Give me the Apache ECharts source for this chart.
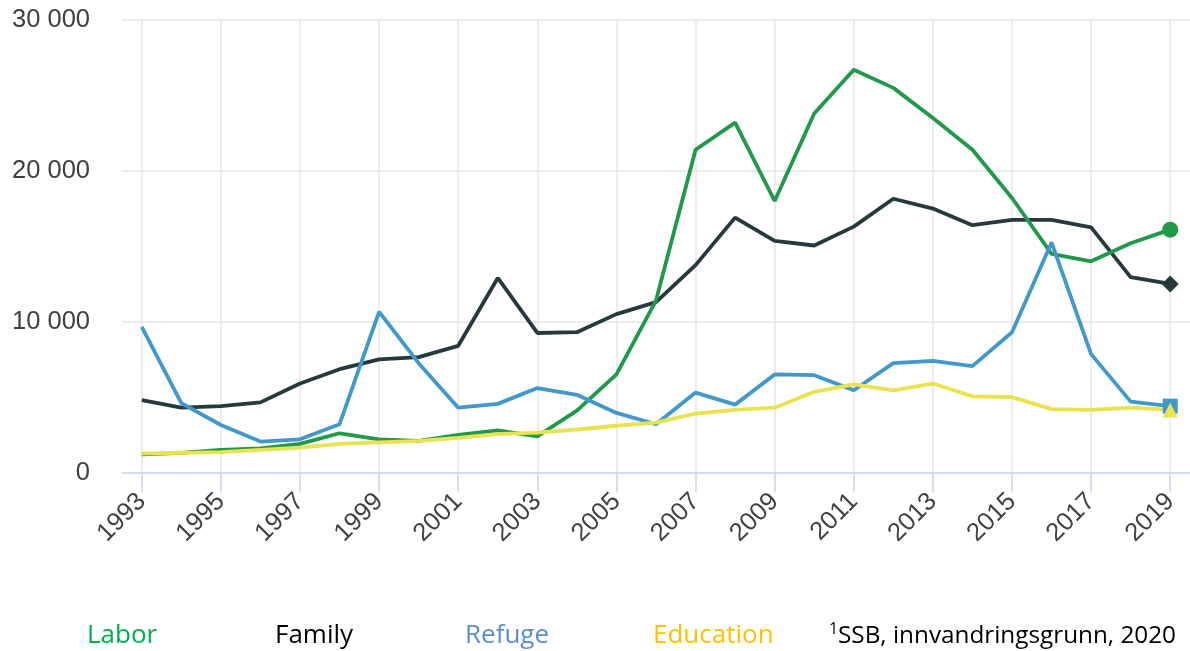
<!DOCTYPE html>
<html>
<head>
<meta charset="utf-8">
<script src="https://cdn.jsdelivr.net/npm/echarts@6/dist/echarts.min.js"></script>
<style>
html,body{margin:0;padding:0;background:#fff;}
#chart{width:1190px;height:651px;}
</style>
</head>
<body>
<div id="chart"></div>
<script>
// years on the x axis
var years = ['1993','1994','1995','1996','1997','1998','1999','2000','2001','2002','2003','2004','2005','2006',
	'2007','2008','2009','2010','2011','2012','2013','2014','2015','2016','2017','2018','2019'];
var yTicks = [0, 10000, 20000, 30000];

// innvandringsgrunn per år
var labor = [1200,1300,1500,1600,1900,2600,2200,2100,2500,2800,2400,4100,6500,11400,
	21400,23200,18000,23800,26700,25500,23500,21400,18200,14500,14000,15200,16100];
var family = [4800,4300,4400,4650,5900,6850,7500,7650,8400,12900,9250,9300,10500,11300,
	13750,16900,15350,15050,16300,18150,17500,16400,16750,16750,16250,12950,12500];
var refuge = [9650,4600,3150,2050,2200,3200,10650,7250,4300,4550,5600,5150,3950,3200,
	5300,4500,6500,6450,5450,7250,7400,7050,9300,15250,7850,4700,4400];
var education = [1250,1300,1350,1500,1650,1900,2000,2100,2300,2550,2650,2850,3100,3300,
	3900,4150,4300,5350,5850,5450,5900,5050,5000,4200,4150,4300,4150];

var myChart = echarts.init(document.getElementById('chart'));

// bare siste punkt får markør
function lastMark(arr, sym, size) {
	var out = arr.slice(0, arr.length - 1);
	out.push({ value: arr[arr.length - 1], symbol: sym, symbolSize: size });
	return out;
}

function lineSeries(name, arr, color, sym, size) {
	return {
		name: name,
		type: 'line',
		data: lastMark(arr, sym, size),
		symbol: 'none',
		showSymbol: true,
		showAllSymbol: true,
		lineStyle: { color: color, width: 3.8 },
		itemStyle: { color: color },
		emphasis: { disabled: true },
		animation: false
	};
}

var legendFont = '26px "Open Sans"';

var option = {
	backgroundColor: '#fff',
	animation: false,
	grid: { left: 122, right: 0, top: 20, bottom: 178.5 },
	xAxis: {
		type: 'category',
		data: years,
		boundaryGap: true,
		axisLine: { show: true, lineStyle: { color: '#ccd6eb', width: 1.5 } },
		axisTick: { show: true, alignWithLabel: true, interval: 1, length: 20, lineStyle: { color: '#ccd6eb', width: 1.5 } },
		splitLine: { show: true, alignWithLabel: true, interval: 1, lineStyle: { color: '#e6e6e6', width: 1.5 } },
		axisLabel: {
			interval: 1,
			rotate: 45,
			margin: 25,
			color: '#404040',
			fontFamily: 'Liberation Sans',
			fontSize: 25.5
		}
	},
	yAxis: {
		type: 'value',
		min: yTicks[0],
		max: yTicks[yTicks.length - 1],
		interval: 10000,
		axisLine: { show: false },
		axisTick: { show: false },
		splitLine: { lineStyle: { color: '#e6e6e6', width: 1.5 } },
		axisLabel: {
			margin: 32,
			padding: [8, 0, 0, 0],
			color: '#404040',
			fontFamily: 'Liberation Sans',
			fontSize: 25.5,
			formatter: function(v) {
				return String(v).replace(/\B(?=(\d{3})+(?!\d))/g, ' ');
			}
		}
	},
	series: [
		lineSeries('Family', family, '#263a3d', 'diamond', 17),
		lineSeries('Labor', labor, '#20994a', 'circle', 16),
		lineSeries('Refuge', refuge, '#4298cb', 'rect', 15),
		lineSeries('Education', education, '#e8e34e', 'triangle', 15)
	],
	graphic: [
		{ type: 'text', x: 87, y: 636, style: { text: 'Labor', font: legendFont, fill: '#00b050', verticalAlign: 'middle' } },
		{ type: 'text', x: 275, y: 636, style: { text: 'Family', font: legendFont, fill: '#000', verticalAlign: 'middle' } },
		{ type: 'text', x: 465, y: 636, style: { text: 'Refuge', font: legendFont, fill: '#5a8ed0', verticalAlign: 'middle' } },
		{ type: 'text', x: 653, y: 636, style: { text: 'Education', font: legendFont, fill: '#ffc000', verticalAlign: 'middle' } },
		{ type: 'text', x: 829, y: 629, style: { text: '1', font: '16px "Open Sans"', fill: '#000', verticalAlign: 'middle' } },
		{ type: 'text', x: 838, y: 636, style: { text: 'SSB, innvandringsgrunn, 2020', font: '24.3px "Open Sans"', fill: '#000', verticalAlign: 'middle' } }
	]
};
myChart.setOption(option);
</script>
</body>
</html>
